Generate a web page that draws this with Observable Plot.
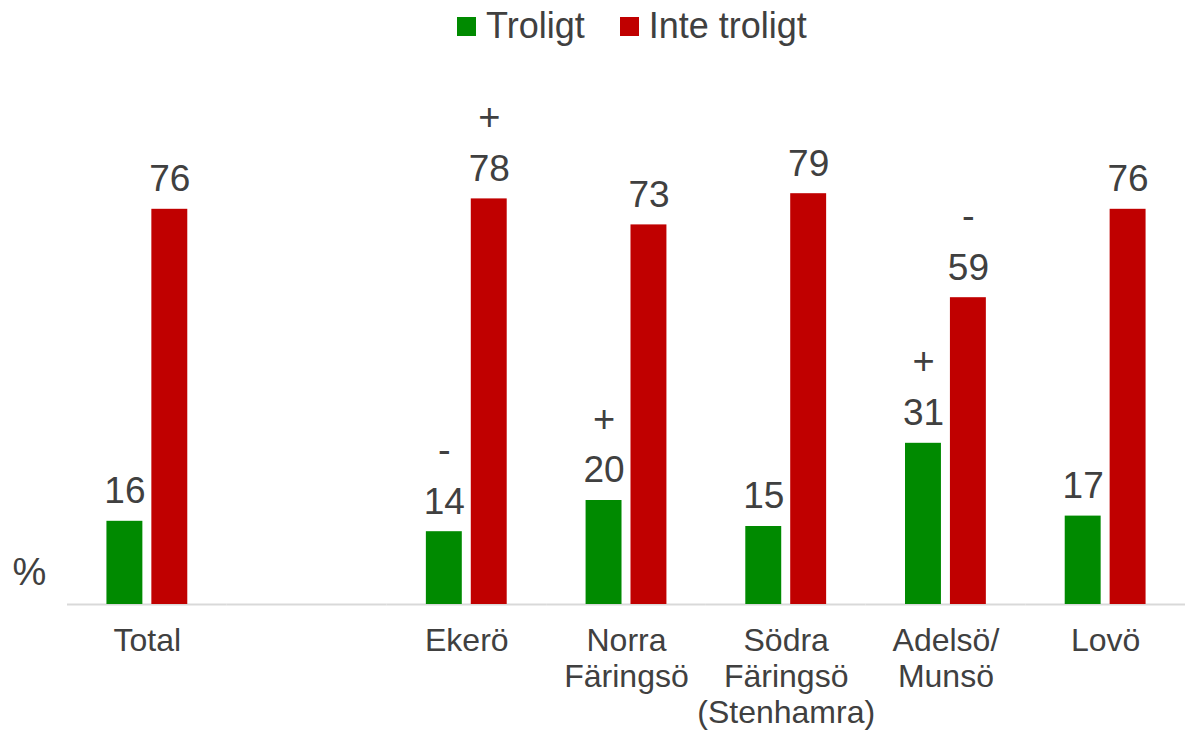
<!DOCTYPE html>
<html>
<head>
<meta charset="utf-8">
<script src="https://cdn.jsdelivr.net/npm/d3@7"></script>
<script src="https://cdn.jsdelivr.net/npm/@observablehq/plot@0.6"></script>
<style>
  body { margin: 0; background: white; font-family: "Liberation Sans", Arial, sans-serif; overflow: hidden; }
  #legend { position: relative; height: 55px; width: 1185px; }
  #legend .items { position: absolute; left: 457px; top: 5px; display: flex; align-items: center; font-size: 36px; color: #404040; }
  #legend .sw { width: 19px; height: 19px; display: inline-block; margin-right: 10px; }
  #legend .item { display: flex; align-items: center; margin-right: 35px; }
  svg { overflow: visible; }
</style>
</head>
<body>
<div id="legend"><div class="items"></div></div>
<div id="chart"></div>
<script>
// Categories (an empty slot separates Total from the districts)
const categories = ["Total", " ", "Ekerö", "Norra\nFäringsö", "Södra\nFäringsö\n(Stenhamra)", "Adelsö/\nMunsö", "Lovö"];
const dataCategories = ["Total", "Ekerö", "Norra\nFäringsö", "Södra\nFäringsö\n(Stenhamra)", "Adelsö/\nMunsö", "Lovö"];
const series = ["Troligt", "Inte troligt"];
const colors = ["#008a00", "#c00000"];
const troligt = [16, 14, 20, 15, 31, 17];
const inteTroligt = [76, 78, 73, 79, 59, 76];
const troligtSign = ["", "-", "+", "", "+", ""];
const inteTroligtSign = ["", "+", "", "", "-", ""];

const rows = dataCategories.flatMap((c, i) => [
  {category: c, series: series[0], value: troligt[i], sign: troligtSign[i]},
  {category: c, series: series[1], value: inteTroligt[i], sign: inteTroligtSign[i]}
]);

// Legend
const items = document.querySelector("#legend .items");
series.forEach((s, i) => {
  const it = document.createElement("div");
  it.className = "item";
  it.innerHTML = `<span class="sw" style="background:${colors[i]}"></span><span>${s}</span>`;
  items.appendChild(it);
});

const font = "'Liberation Sans', Arial, sans-serif";
const textColor = "#404040";

const chart = Plot.plot({
  width: 1185,
  height: 676,
  marginLeft: 67,
  marginRight: 0,
  marginTop: 29,
  marginBottom: 127,
  style: {fontFamily: font, color: textColor, background: "white", overflow: "visible"},
  fx: {domain: categories, padding: 0, round: false, label: null, axis: null},
  x: {domain: series, paddingInner: 0.2, paddingOuter: 0.878, round: false, axis: null},
  y: {domain: [0, 100], axis: null},
  color: {domain: series, range: colors},
  marks: [
    Plot.ruleY(categories, {fx: d => d, y: () => 0, stroke: "#d9d9d9", strokeWidth: 2}),
    Plot.barY(rows, {fx: "category", x: "series", y: "value", fill: "series"}),
    Plot.text(rows, {fx: "category", x: "series", y: "value", text: d => String(d.value),
      dy: -30, fontSize: 37, fill: textColor, lineAnchor: "middle"}),
    Plot.text(rows.filter(d => d.sign), {fx: "category", x: "series", y: "value", text: "sign",
      dy: -81, fontSize: 38, fill: textColor, lineAnchor: "middle"}),
    Plot.text(["%"], {fx: () => "Total", y: () => 0, text: d => d, frameAnchor: "left", textAnchor: "middle",
      dx: -38, dy: -32, fontSize: 38, fill: textColor, lineAnchor: "middle"}),
    Plot.axisFx({anchor: "bottom", tickSize: 0, tickPadding: 21, fontSize: 32, lineHeight: 1.13,
      label: null, tickFormat: d => d, fill: textColor})
  ]
});
document.getElementById("chart").appendChild(chart);
</script>
</body>
</html>
